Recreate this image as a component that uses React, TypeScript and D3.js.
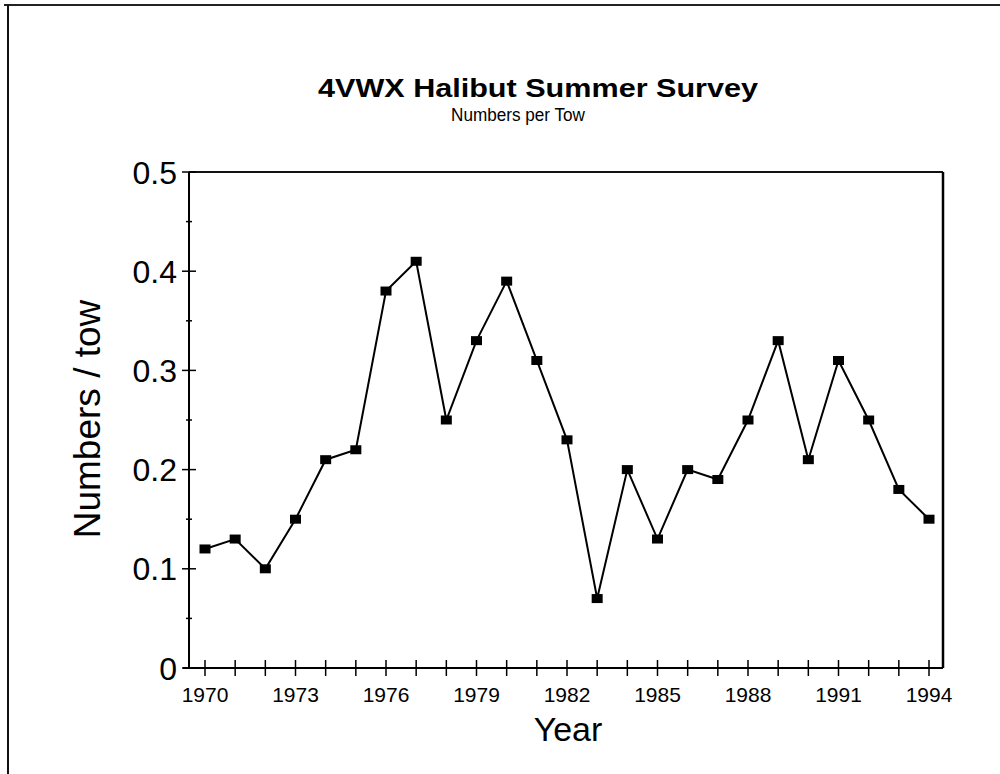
import React from "react";
import * as d3 from "d3";

const years = [1970,1971,1972,1973,1974,1975,1976,1977,1978,1979,1980,1981,1982,1983,1984,1985,1986,1987,1988,1989,1990,1991,1992,1993,1994];
const values = [0.12,0.13,0.10,0.15,0.21,0.22,0.38,0.41,0.25,0.33,0.39,0.31,0.23,0.07,0.20,0.13,0.20,0.19,0.25,0.33,0.21,0.31,0.25,0.18,0.15];
const xTickLabels = [1970,1973,1976,1979,1982,1985,1988,1991,1994];
const yTicks = [0,0.1,0.2,0.3,0.4,0.5];
const yMinorTicks = [0.05,0.15,0.25,0.35,0.45];

const W = 1000, H = 774;
const left = 189, right = 943, top = 172, bottom = 668;
const font = "'Liberation Sans', Arial, Helvetica, sans-serif";

export default function App() {
  const x = d3.scaleLinear().domain([1970, 1994]).range([205, 929]);
  const y = d3.scaleLinear().domain([0, 0.5]).range([bottom, top]);
  const line = d3.line<number>().x((_, i) => x(years[i])).y(d => y(d));
  return (
    <svg width={W} height={H} style={{ position: "absolute", left: 0, top: 0, background: "#fff" }} fontFamily={font}>
      <rect x={0} y={0} width={W} height={H} fill="#fff" />
      <line x1={4} y1={5} x2={W} y2={5} stroke="#222" strokeWidth={2} />
      <line x1={8} y1={5} x2={8} y2={H} stroke="#111" strokeWidth={2} />
      <text x={538} y={97} textAnchor="middle" fontSize={26} fontWeight="bold" textLength={440} lengthAdjust="spacingAndGlyphs">4VWX Halibut Summer Survey</text>
      <text x={518} y={121} textAnchor="middle" fontSize={18} textLength={134} lengthAdjust="spacingAndGlyphs">Numbers per Tow</text>
      {/* axes frame */}
      <line x1={left} y1={top} x2={right} y2={top} stroke="#111" strokeWidth={2} />
      <line x1={right} y1={top} x2={right} y2={bottom} stroke="#000" strokeWidth={2.5} />
      <line x1={left} y1={top} x2={left} y2={bottom} stroke="#000" strokeWidth={2} />
      <line x1={left - 6} y1={bottom} x2={right} y2={bottom} stroke="#000" strokeWidth={2} />
      {yTicks.map(t => (
        <g key={"y" + t}>
          <line x1={left - 7} x2={left + 7} y1={y(t)} y2={y(t)} stroke="#000" strokeWidth={1.5} />
          <text x={177} y={y(t)} dy="0.36em" textAnchor="end" fontSize={32}>{t === 0 ? "0" : d3.format(".1f")(t)}</text>
        </g>
      ))}
      {yMinorTicks.map(t => (
        <line key={"ym" + t} x1={left - 3} x2={left + 3} y1={y(t)} y2={y(t)} stroke="#000" strokeWidth={1.5} />
      ))}
      {years.map(yr => (
        <line key={"xt" + yr} x1={x(yr)} x2={x(yr)} y1={bottom - 8} y2={bottom + 8} stroke="#000" strokeWidth={1.5} />
      ))}
      {xTickLabels.map(yr => (
        <text key={"xl" + yr} x={x(yr)} y={702} textAnchor="middle" fontSize={21}>{yr}</text>
      ))}
      <text x={568} y={741} textAnchor="middle" fontSize={34}>Year</text>
      <text transform={`translate(100,419) rotate(-90)`} textAnchor="middle" fontSize={37}>Numbers / tow</text>
      <path d={line(values) || ""} fill="none" stroke="#000" strokeWidth={2} />
      {values.map((v, i) => (
        <rect key={"m" + i} x={x(years[i]) - 5.5} y={y(v) - 4.5} width={11} height={9} fill="#000" />
      ))}
    </svg>
  );
}
